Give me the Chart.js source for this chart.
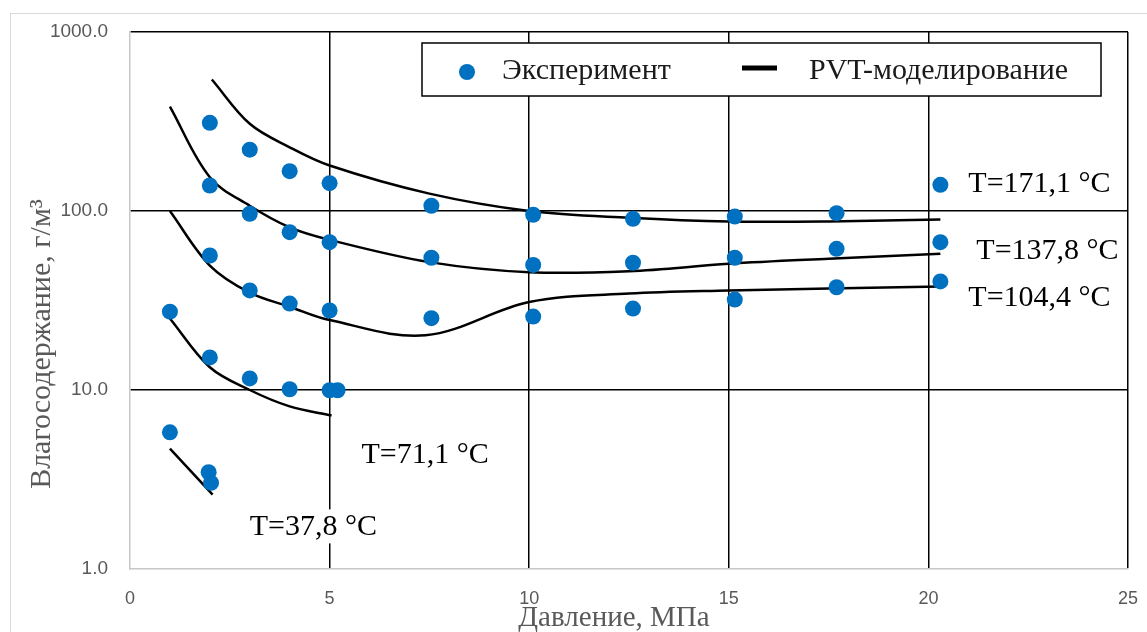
<!DOCTYPE html>
<html><head><meta charset="utf-8">
<script src="https://cdn.jsdelivr.net/npm/chart.js@4.4.1/dist/chart.umd.min.js"></script>
<style>html,body{margin:0;padding:0;background:#fff;overflow:hidden}canvas{display:block}</style>
</head><body>
<canvas id="c" width="1147" height="632" style="width:1147px;height:632px"></canvas>
<script>
// ---- tick labels ----
const xTicks = [0, 5, 10, 15, 20, 25];
const yTicks = [1, 10, 100, 1000];

// ---- experiment (points) ----
const expP_37_8 = [1, 1.97, 2.03];
const expW_37_8 = [5.8, 3.47, 3.03];
const expP_71_1 = [1, 2, 3, 4, 5, 5.2];
const expW_71_1 = [27.4, 15.2, 11.6, 10.1, 9.97, 9.97];
const expP_104_4 = [2, 3, 4, 5, 7.55, 10.1, 12.6, 15.15, 17.7, 20.3];
const expW_104_4 = [56.4, 36, 30.4, 27.8, 25.2, 25.7, 28.5, 32, 37.5, 40.4];
const expP_137_8 = [2, 3, 4, 5, 7.55, 10.1, 12.6, 15.15, 17.7, 20.3];
const expW_137_8 = [138.8, 96.5, 76.2, 67, 54.8, 50, 51.4, 54.8, 61.5, 67];
const expP_171_1 = [2, 3, 4, 5, 7.55, 10.1, 12.6, 15.15, 17.7, 20.3];
const expW_171_1 = [311, 220, 167, 143, 107, 95.3, 90.4, 93.1, 97.2, 140];

// ---- PVT model (lines) ----
const modP_37_8 = [1, 2.07];
const modW_37_8 = [4.7, 2.6];
const modP_71_1 = [1, 2, 3, 4, 5.05];
const modW_71_1 = [25.1, 13.4, 10.0, 8.1, 7.2];
const modP_104_4 = [1, 2, 3, 4, 5, 7.4, 10, 12.5, 15, 17.5, 20.3];
const modW_104_4 = [100, 49.6, 35, 29.2, 24.6, 20.2, 31, 34.6, 36, 36.9, 37.9];
const modP_137_8 = [1, 2, 3, 4, 5, 7.5, 10, 12.5, 15, 17.5, 20.3];
const modW_137_8 = [383, 154.5, 107, 81, 69, 51.8, 45.5, 46.1, 50.7, 54.1, 57.7];
const modP_171_1 = [2.05, 3, 4, 5, 7.5, 10, 12.5, 15, 17.5, 20.3];
const modW_171_1 = [543, 307, 227, 179.5, 125, 100, 91.7, 87.4, 87.4, 89.6];

// ---- temperature labels ----
const tempText = ['T=171,1 °C', 'T=137,8 °C', 'T=104,4 °C', 'T=71,1 °C', 'T=37,8 °C'];
const tempP = [21.0, 21.2, 21.0, 5.8, 3.0];
const tempW = [142.5, 60.2, 32.9, 4.36, 1.73];

const legendLabels = ['Эксперимент', 'PVT-моделирование'];
const xTitle = 'Давление, МПа';
const yTitle = 'Влагосодержание, г/м³';

const BLUE = '#0070c0';
const SERIF = '"Liberation Serif", "Times New Roman", serif';
const SANS = '"Liberation Sans", Arial, sans-serif';

function pts(p, w) { return p.map((v, i) => ({ x: v, y: w[i] })); }
function expSet(p, w) {
  return { type: 'scatter', data: pts(p, w), pointRadius: 8, pointHoverRadius: 8,
    backgroundColor: BLUE, borderWidth: 0, showLine: false, order: 0 };
}
function modSet(p, w) {
  return { type: 'line', data: pts(p, w), pointRadius: 0, borderColor: '#000',
    borderWidth: 2.5, tension: 0.35, fill: false, showLine: true, order: 1 };
}

const deco = {
  id: 'deco',
  afterDatasetsDraw(chart) {
    const ctx = chart.ctx, xs = chart.scales.x, ys = chart.scales.y;
    ctx.save();
    // temperature labels with white boxes
    ctx.font = '30px ' + SERIF;
    ctx.textBaseline = 'middle';
    ctx.textAlign = 'left';
    tempText.forEach((t, i) => {
      const x = xs.getPixelForValue(tempP[i]);
      const y = ys.getPixelForValue(tempW[i]);
      const w = ctx.measureText(t).width;
      ctx.fillStyle = '#fff';
      ctx.fillRect(x - 5, y - 17, w + 10, 34);
      ctx.fillStyle = '#000';
      ctx.fillText(t, x, y + 1);
    });
    // legend box
    const lx = 422, ly = 43, lw = 679, lh = 53;
    ctx.fillStyle = '#fff';
    ctx.fillRect(lx, ly, lw, lh);
    ctx.strokeStyle = '#000';
    ctx.lineWidth = 1.5;
    ctx.strokeRect(lx, ly, lw, lh);
    ctx.fillStyle = BLUE;
    ctx.beginPath(); ctx.arc(467, 72, 8, 0, Math.PI * 2); ctx.fill();
    ctx.fillStyle = '#1a1a1a';
    ctx.font = '30px ' + SERIF;
    ctx.fillText(legendLabels[0], 502, 71);
    ctx.strokeStyle = '#000';
    ctx.lineWidth = 5;
    ctx.beginPath(); ctx.moveTo(742, 68); ctx.lineTo(777, 68); ctx.stroke();
    ctx.fillText(legendLabels[1], 809, 71);
    // axis titles
    ctx.fillStyle = '#595959';
    ctx.font = '29px ' + SERIF;
    ctx.textAlign = 'center';
    ctx.textBaseline = 'alphabetic';
    ctx.fillText(xTitle, 614, 626);
    ctx.font = '30px ' + SERIF;
    ctx.translate(50, 344);
    ctx.rotate(-Math.PI / 2);
    ctx.fillText(yTitle, 0, 0);
    ctx.restore();
    // outer border
    ctx.save();
    ctx.strokeStyle = '#d9d9d9';
    ctx.lineWidth = 1;
    ctx.strokeRect(10.5, 13.5, 1146, 640);
    ctx.restore();
  }
};

new Chart(document.getElementById('c'), {
  type: 'scatter',
  data: {
    datasets: [
      expSet(expP_37_8, expW_37_8), expSet(expP_71_1, expW_71_1), expSet(expP_104_4, expW_104_4),
      expSet(expP_137_8, expW_137_8), expSet(expP_171_1, expW_171_1),
      modSet(modP_37_8, modW_37_8), modSet(modP_71_1, modW_71_1), modSet(modP_104_4, modW_104_4),
      modSet(modP_137_8, modW_137_8), modSet(modP_171_1, modW_171_1)
    ]
  },
  options: {
    responsive: false,
    animation: false,
    devicePixelRatio: 1,
    layout: { padding: { top: 32, right: 19, left: 0, bottom: 0 } },
    plugins: { legend: { display: false }, tooltip: { enabled: false } },
    scales: {
      x: {
        type: 'linear', min: 0, max: 25,
        afterBuildTicks: s => { s.ticks = xTicks.map(v => ({ value: v })); },
        afterFit: s => { s.height = 63; s.paddingLeft = 0; s.paddingRight = 0; },
        ticks: { color: '#595959', font: { family: SANS, size: 18 }, padding: 19 },
        grid: { color: c => (c.tick && c.tick.value === 0) ? 'rgba(0,0,0,0)' : '#000', lineWidth: 1.5, drawTicks: false },
        border: { display: true, color: '#c8c8c8', width: 1.5 }
      },
      y: {
        type: 'logarithmic', min: 1, max: 1000,
        afterBuildTicks: s => { s.ticks = yTicks.map(v => ({ value: v })); },
        afterFit: s => { s.width = 130; s.paddingTop = 0; s.paddingBottom = 0; },
        ticks: { color: '#595959', font: { family: SANS, size: 19 }, padding: 22,
          callback: v => Number(v).toFixed(1) },
        grid: { color: c => (c.tick && c.tick.value === 1) ? 'rgba(0,0,0,0)' : '#000', lineWidth: 1.5, drawTicks: false },
        border: { display: true, color: '#c8c8c8', width: 1.5 }
      }
    }
  },
  plugins: [deco]
});
</script>
</body></html>
